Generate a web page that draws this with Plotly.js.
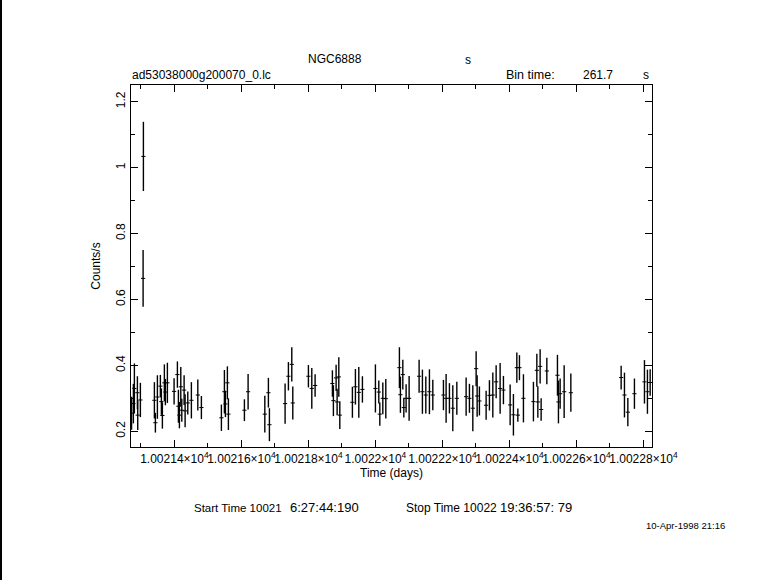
<!DOCTYPE html>
<html>
<head>
<meta charset="utf-8">
<script src="https://cdn.plot.ly/plotly-3.0.1.min.js"></script>
<style>html,body{margin:0;padding:0;background:#fff;}#chart{width:781px;height:580px;}</style>
</head>
<body>
<div id="chart"></div>
<script>
// Time (days), count rate (counts/s), 1-sigma error
const timeDays = [
  10021.2722, 10021.2776, 10021.2806, 10021.2896, 10021.2906, 10021.2985,
  10021.3066, 10021.3075, 10021.3403, 10021.3433, 10021.3493, 10021.3582,
  10021.3612, 10021.3642, 10021.3701, 10021.3731, 10021.3791, 10021.3991,
  10021.4090, 10021.4120, 10021.4150, 10021.4191, 10021.4221, 10021.4290,
  10021.4320, 10021.4400, 10021.4507, 10021.4699, 10021.4806, 10021.5403,
  10021.5493, 10021.5523, 10021.5582, 10021.5612, 10021.6090, 10021.6200,
  10021.6699, 10021.6806, 10021.6836, 10021.7304, 10021.7403, 10021.7504,
  10021.7534, 10021.8000, 10021.8101, 10021.8200, 10021.8716, 10021.8746,
  10021.8827, 10021.8857, 10021.8907, 10021.8937, 10021.9313, 10021.9403,
  10021.9504, 10021.9612, 10022.0000, 10022.0101, 10022.0131, 10022.0221,
  10022.0310, 10022.0716, 10022.0746, 10022.0818, 10022.0848, 10022.0916,
  10022.1006, 10022.1304, 10022.1403, 10022.1504, 10022.1612, 10022.1713,
  10022.2030, 10022.2110, 10022.2209, 10022.2310, 10022.2430, 10022.2707,
  10022.2806, 10022.2907, 10022.3006, 10022.3036, 10022.3104, 10022.3304,
  10022.3403, 10022.3504, 10022.3603, 10022.3722, 10022.3821, 10022.4021,
  10022.4119, 10022.4221, 10022.4251, 10022.4299, 10022.4418, 10022.4716,
  10022.4818, 10022.4848, 10022.4916, 10022.4946, 10022.5116, 10022.5433,
  10022.5463, 10022.5513, 10022.5633, 10022.5833, 10022.7334, 10022.7433,
  10022.7534, 10022.7731, 10022.8030, 10022.8119, 10022.8200
];
const countRate = [
  0.255, 0.284, 0.330, 0.317, 0.249, 0.295,
  0.664, 1.034, 0.294, 0.226, 0.304, 0.337,
  0.290, 0.248, 0.347, 0.319, 0.347, 0.321,
  0.372, 0.276, 0.249, 0.335, 0.264, 0.325,
  0.262, 0.286, 0.294, 0.310, 0.272, 0.241,
  0.320, 0.283, 0.347, 0.252, 0.264, 0.320,
  0.252, 0.317, 0.220, 0.284, 0.367, 0.403,
  0.286, 0.367, 0.330, 0.339, 0.345, 0.293,
  0.362, 0.289, 0.365, 0.249, 0.288, 0.335,
  0.318, 0.327, 0.330, 0.319, 0.252, 0.300,
  0.299, 0.393, 0.311, 0.372, 0.272, 0.300,
  0.300, 0.367, 0.320, 0.310, 0.320, 0.310,
  0.310, 0.300, 0.300, 0.270, 0.300, 0.305,
  0.300, 0.270, 0.390, 0.307, 0.292, 0.279,
  0.309, 0.310, 0.350, 0.330, 0.325, 0.280,
  0.250, 0.393, 0.249, 0.393, 0.300, 0.290,
  0.385, 0.289, 0.397, 0.266, 0.383, 0.370,
  0.289, 0.314, 0.320, 0.317, 0.363, 0.310,
  0.258, 0.314, 0.350, 0.320, 0.348
];
const rateError = [
  0.050, 0.060, 0.076, 0.050, 0.045, 0.052,
  0.086, 0.105, 0.055, 0.030, 0.066, 0.034,
  0.040, 0.040, 0.056, 0.040, 0.061, 0.040,
  0.040, 0.050, 0.040, 0.060, 0.035, 0.045,
  0.050, 0.035, 0.055, 0.047, 0.035, 0.040,
  0.066, 0.040, 0.050, 0.048, 0.033, 0.054,
  0.056, 0.045, 0.050, 0.061, 0.043, 0.052,
  0.050, 0.034, 0.062, 0.034, 0.040, 0.047,
  0.040, 0.040, 0.060, 0.042, 0.047, 0.054,
  0.077, 0.040, 0.073, 0.035, 0.035, 0.048,
  0.060, 0.062, 0.055, 0.045, 0.030, 0.043,
  0.068, 0.050, 0.067, 0.056, 0.068, 0.046,
  0.046, 0.074, 0.046, 0.070, 0.050, 0.058,
  0.044, 0.070, 0.053, 0.063, 0.044, 0.044,
  0.046, 0.068, 0.050, 0.077, 0.043, 0.062,
  0.063, 0.046, 0.020, 0.038, 0.073, 0.060,
  0.050, 0.048, 0.052, 0.034, 0.040, 0.062,
  0.065, 0.046, 0.080, 0.058, 0.036, 0.068,
  0.043, 0.046, 0.066, 0.067, 0.040
];
const xTickVals = [10021.4, 10021.6, 10021.8, 10022.0, 10022.2, 10022.4, 10022.6, 10022.8];
const xTickText = ["1.00214×10<sup>4</sup>", "1.00216×10<sup>4</sup>", "1.00218×10<sup>4</sup>", "1.0022×10<sup>4</sup>",
                   "1.00222×10<sup>4</sup>", "1.00224×10<sup>4</sup>", "1.00226×10<sup>4</sup>", "1.00228×10<sup>4</sup>"];
const yTickVals = [0.2, 0.4, 0.6, 0.8, 1.0, 1.2];
const yTickText = ["0.2", "0.4", "0.6", "0.8", "1", "1.2"];

const F = "Liberation Sans, Arial, sans-serif";
const trace = {
  x: timeDays, y: countRate, type: 'scatter', mode: 'markers',
  marker: {symbol: 'line-ew', size: 3, color: '#000', line: {color: '#000', width: 1}},
  error_y: {type: 'data', array: rateError, visible: true, color: '#000', thickness: 1.4, width: 0},
  hoverinfo: 'x+y', showlegend: false
};
function ann(text, x, y, xanchor, size) {
  return {text: text, x: x, y: y, xref: 'paper', yref: 'paper', xanchor: xanchor, yanchor: 'middle',
          showarrow: false, borderpad: 0, font: {family: F, size: size || 12, color: '#000'}};
}
const layout = {
  width: 781, height: 580,
  paper_bgcolor: '#fff', plot_bgcolor: '#fff',
  margin: {l: 131, r: 129, t: 85, b: 133},
  font: {family: F, size: 12, color: '#000'},
  showlegend: false,
  xaxis: {
    range: [10021.2705, 10022.8255], showgrid: false, zeroline: false,
    showline: true, linecolor: '#000', linewidth: 1.3, mirror: 'ticks',
    ticks: 'inside', ticklen: 7, tickwidth: 1, tickcolor: '#000',
    tickmode: 'array', tickvals: xTickVals, ticktext: xTickText, tickangle: 0,
    tickfont: {family: F, size: 12}, automargin: false,
    minor: {dtick: 0.1, tick0: 10021.4, ticks: 'inside', ticklen: 4, tickcolor: '#000', tickwidth: 1, showgrid: false},
    title: {text: 'Time (days)', font: {family: F, size: 12}, standoff: 3}
  },
  yaxis: {
    range: [0.1523, 1.2507], showgrid: false, zeroline: false,
    showline: true, linecolor: '#000', linewidth: 1.3, mirror: 'ticks',
    ticks: 'inside', ticklen: 7, tickwidth: 1, tickcolor: '#000',
    tickmode: 'array', tickvals: yTickVals, ticktext: yTickText, tickangle: -90,
    tickfont: {family: F, size: 12}, automargin: false,
    minor: {dtick: 0.1, tick0: 0.2, ticks: 'inside', ticklen: 4, tickcolor: '#000', tickwidth: 1, showgrid: false},
    title: {text: 'Counts/s', font: {family: F, size: 12}, standoff: 10}
  },
  annotations: [
    ann('NGC6888', 0.3916, 1.0718, 'center'),
    ann('s', 0.6468, 1.069, 'center'),
    ann('ad53038000g200070_0.lc', 0.0, 1.0276, 'left', 12),
    ann('Bin time:', 0.7179, 1.0276, 'left', 12.5),
    ann('261.7', 0.8656, 1.0276, 'left'),
    ann('s', 0.9885, 1.0276, 'center'),
    ann('Start Time 10021', 0.1190, -0.1685, 'left', 11.5),
    ann('6:27:44:190', 0.3032, -0.1685, 'left', 13),
    ann('Stop Time 10022', 0.5259, -0.1685, 'left', 12),
    ann('19:36:57:\u00A079', 0.7063, -0.1685, 'left', 13),
    ann('10-Apr-1998 21:16', 0.9866, -0.2155, 'left', 9.5)
  ],
  shapes: [
    {type: 'line', xref: 'paper', yref: 'paper', x0: -0.2495, x1: -0.2495, y0: -0.3674, y1: 1.2348, line: {color: '#000', width: 2}}
  ]
};
Plotly.newPlot('chart', [trace], layout, {displayModeBar: false, staticPlot: true});
</script>
</body>
</html>
